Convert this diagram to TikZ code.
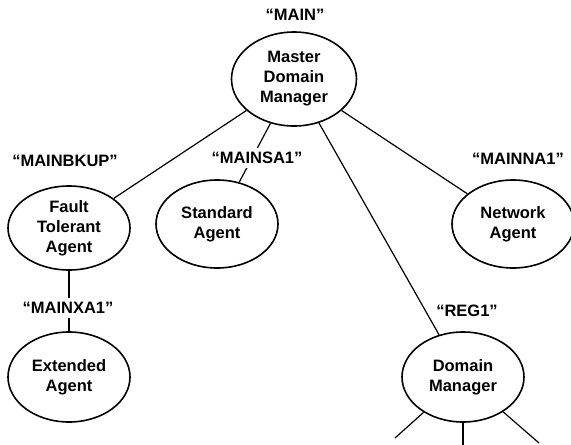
\documentclass[tikz,border=0pt]{standalone}
\usepackage{fontspec}
\setmainfont{Liberation Sans}
\usetikzlibrary{shapes.geometric}

\tikzset{
  agent/.style={ellipse, draw, line width=1.6pt, minimum width=122pt,
    minimum height=86pt, inner sep=0pt, align=center,
    font=\fontsize{16.5}{20}\selectfont\bfseries},
  hostname/.style={fill=white, inner sep=4pt,
    font=\fontsize{16.5}{20}\selectfont\bfseries},
  link/.style={line width=1.2pt}
}

\begin{document}
\begin{tikzpicture}[x=1pt, y=-1pt]
  \useasboundingbox (0,0) rectangle (571,445);

  % workstations
  \node[agent, minimum width=125pt, minimum height=94pt] (mdm) at (294,79) {Master\\Domain\\Manager};
  \node[agent, minimum height=84pt] (fta) at (69,228) {Fault\\Tolerant\\Agent};
  \node[agent, minimum height=88pt] (sa)  at (217,224) {Standard\\Agent};
  \node[agent, minimum height=88pt] (na)  at (513,224) {Network\\Agent};
  \node[agent, minimum height=90pt] (xa)  at (69,377) {Extended\\Agent};
  \node[agent, minimum height=90pt] (dm)  at (463,377) {Domain\\Manager};

  % open ends below the domain manager
  \coordinate (d1) at (395,438);
  \coordinate (d2) at (463,446);
  \coordinate (d3) at (539,443);

  % links
  \draw[link] (mdm) -- (fta);
  \draw[link] (mdm) -- (sa);
  \draw[link] (mdm) -- (na);
  \draw[link] (mdm) -- (dm);
  \draw[link] (fta) -- (xa);
  \draw[link] (dm) -- (d1);
  \draw[link] (dm) -- (d2);
  \draw[link] (dm) -- (d3);

  % workstation names
  \node[hostname] (nmain) at (295,15)  {“MAIN”};
  \node[hostname] (nbkup) at (65,161)  {“MAINBKUP”};
  \node[hostname] (nsa)   at (257,158) {“MAINSA1”};
  \node[hostname] (nna)   at (518,159) {“MAINNA1”};
  \node[hostname] (nxa)   at (68,308)  {“MAINXA1”};
  \node[hostname] (nreg)  at (467,311) {“REG1”};
\end{tikzpicture}
\end{document}
